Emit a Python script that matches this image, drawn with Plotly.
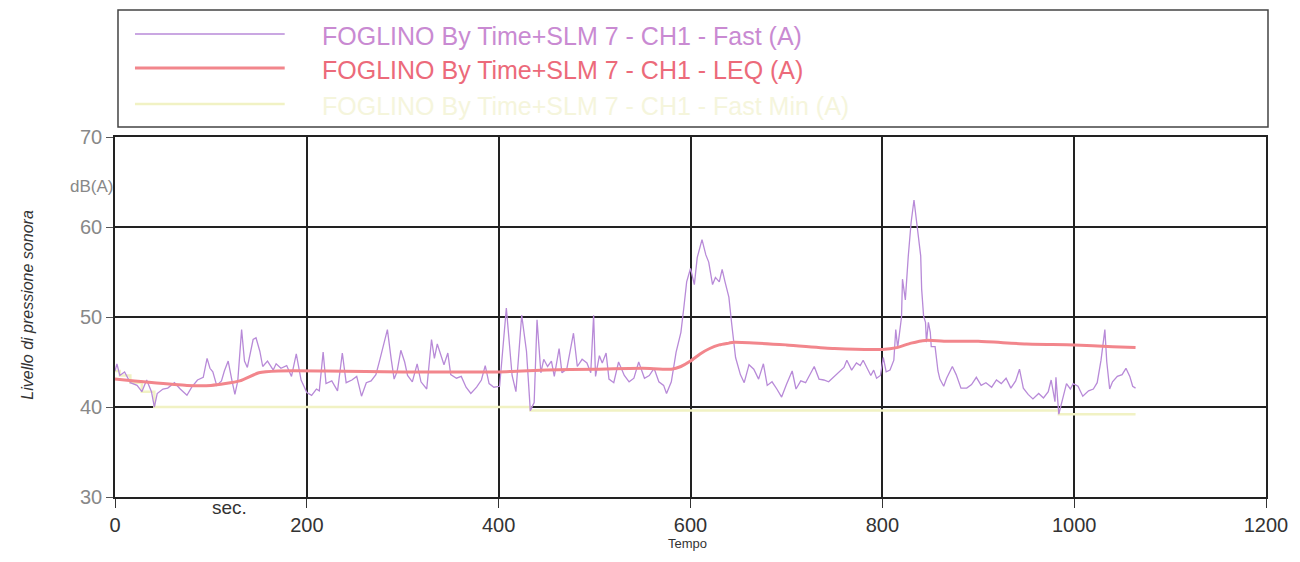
import plotly.graph_objects as go

# ---------------- data ----------------
fast_t = [0,2,5,10,16,23,28,33,38,41,44,50,55,62,68,75,80,86,92,96,99,102,106,111,114,118,122,125,128,132,135,138,144,147,151,154,159,165,168,173,179,184,189,194,200,205,210,213,217,220,226,232,237,241,247,252,257,262,267,272,276,281,284,288,291,294,298,302,305,310,315,319,325,330,333,336,340,343,347,350,356,361,366,371,377,382,386,390,395,401,408,414,418,424,429,433,437,440,444,447,451,455,458,463,466,471,478,482,487,492,496,499,501,505,508,512,515,520,525,531,536,541,546,552,557,562,567,572,575,580,585,590,593,596,600,604,607,612,616,619,623,626,630,633,636,640,643,647,652,656,661,666,671,676,680,685,690,695,700,706,710,715,720,725,729,734,739,744,749,754,760,763,768,773,777,780,784,788,791,794,798,801,804,808,812,814,816,820,821,824,827,830,833,836,840,841,843,845,846,848,850,851,855,858,860,864,867,873,877,882,888,893,898,903,908,914,919,924,929,934,939,943,947,952,957,963,968,973,976,980,981,984,989,992,996,999,1004,1009,1015,1020,1024,1028,1032,1034,1037,1040,1045,1050,1054,1058,1061,1064]
fast_db = [44.0,44.8,43.5,43.9,42.7,42.4,41.7,43.0,41.7,40.0,41.5,42.0,42.1,42.7,42.0,41.3,42.2,43.0,43.3,45.4,44.3,43.9,42.4,42.9,44.0,45.1,42.9,41.4,42.9,48.6,45.1,44.4,47.5,47.7,46.2,44.5,45.1,44.1,44.8,44.3,44.6,43.4,45.9,43.0,41.6,41.3,42.0,41.8,46.1,42.6,42.9,41.8,46.0,42.7,43.0,43.4,41.2,42.7,42.9,43.6,45.2,47.2,48.6,45.3,43.1,43.9,46.3,45.0,43.5,42.8,44.8,42.8,42.0,47.5,45.4,47.0,45.6,44.7,46.0,43.6,43.2,43.4,42.2,41.5,42.2,43.0,44.6,42.6,42.2,42.3,51.0,43.5,41.7,50.2,46.2,39.6,40.5,49.7,43.8,45.3,44.5,45.1,43.4,46.5,43.8,44.2,48.2,44.5,45.3,44.9,43.8,50.2,43.4,45.7,44.9,46.0,43.1,42.7,45.0,43.5,42.8,43.2,45.0,43.2,43.5,44.3,42.8,42.4,41.5,42.8,46.1,48.3,51.0,53.9,55.4,53.6,56.6,58.6,56.9,56.1,53.6,54.4,53.9,55.3,53.9,52.2,49.2,45.5,43.6,42.7,44.7,44.2,43.1,44.8,42.4,42.8,42.0,41.1,42.5,44.0,42.0,42.9,42.7,43.7,44.5,43.1,43.0,42.8,43.3,43.9,44.4,45.2,44.1,44.9,44.6,45.2,44.4,43.5,44.1,43.2,43.5,45.5,43.9,44.1,45.2,48.6,46.6,50.0,54.2,51.9,56.7,60.5,63.0,60.5,56.8,53.1,50.1,49.4,47.2,49.4,48.3,46.7,46.7,44.0,43.1,42.3,43.2,44.5,43.6,42.1,42.1,42.5,43.3,42.4,42.7,42.2,43.0,42.6,43.2,42.1,42.9,44.2,42.1,41.4,40.9,41.5,41.0,41.7,43.0,40.6,43.3,39.2,41.4,42.6,42.0,42.6,42.3,41.2,41.8,42.0,42.7,45.2,48.6,45.0,42.0,42.8,43.4,43.6,44.3,43.4,42.3,42.1]

leq_t = [0,10,30,75,100,130,150,170,220,300,400,450,500,550,580,590,600,610,620,630,640,645,700,750,800,815,830,845,870,900,950,1000,1040,1064]
leq_db = [43.1,43.0,42.8,42.4,42.4,42.9,43.8,44.0,44.0,43.9,43.9,44.1,44.2,44.3,44.2,44.5,45.1,45.9,46.5,46.9,47.1,47.2,46.9,46.5,46.4,46.6,47.1,47.4,47.3,47.3,47.0,46.9,46.7,46.6]

min_t = [0,5,16,28,41,433,984,1064]
min_db = [44.0,43.5,42.7,41.7,40.0,39.6,39.2,39.2]

x_ticks = [0,200,400,600,800,1000,1200]
y_ticks = [30,40,50,60,70]

names = ["FOGLINO By Time+SLM 7 - CH1 - Fast (A)",
         "FOGLINO By Time+SLM 7 - CH1 - LEQ (A)",
         "FOGLINO By Time+SLM 7 - CH1 - Fast Min (A)"]

c_fast = "#b88ad8"
c_leq = "#f2868c"
c_min = "#f1f2c4"
txt_cols = ["#c98ad2", "#ec6a7a", "#f5f5dc"]

FONT = "Liberation Sans, Arial, sans-serif"

fig = go.Figure()
fig.add_trace(go.Scatter(x=min_t, y=min_db, mode="lines", line=dict(color=c_min, width=2.5, shape="hv"), name=names[2]))
fig.add_trace(go.Scatter(x=fast_t, y=fast_db, mode="lines", line=dict(color=c_fast, width=1.3), name=names[0]))
fig.add_trace(go.Scatter(x=leq_t, y=leq_db, mode="lines", line=dict(color=c_leq, width=3, shape="spline", smoothing=0.6), name=names[1]))

L, R, T, B = 115, 32, 137, 65
W, H = 1300, 562
pw, ph = W - L - R, H - T - B

def px_x(p):
    return (p - L) / pw

def px_y(p):
    return (H - B - p) / ph

shapes = []
# legend box
shapes.append(dict(type="rect", xref="paper", yref="paper", x0=px_x(118), x1=px_x(1270), y0=px_y(127), y1=px_y(10),
                   line=dict(color="#444", width=1.5), fillcolor="rgba(0,0,0,0)", layer="above"))
rows_y = [34, 68, 104]
sample_cols = [c_fast, c_leq, c_min]
sample_w = [1.5, 3, 2.5]
for yy, cc, ww in zip(rows_y, sample_cols, sample_w):
    shapes.append(dict(type="line", xref="paper", yref="paper", x0=px_x(135), x1=px_x(285), y0=px_y(yy), y1=px_y(yy),
                       line=dict(color=cc, width=ww)))

annotations = []
for yy, nm, tc in zip(rows_y, names, txt_cols):
    annotations.append(dict(xref="paper", yref="paper", x=px_x(320), y=px_y(yy + 2), text=nm, showarrow=False,
                            xanchor="left", yanchor="middle", font=dict(family=FONT, size=25, color=tc)))
annotations.append(dict(xref="paper", yref="paper", x=px_x(68), y=px_y(175), text="dB(A)", showarrow=False,
                        font=dict(family=FONT, size=17, color="#888")))
annotations.append(dict(xref="paper", yref="paper", x=px_x(210), y=px_y(520), text="sec.", showarrow=False,
                        font=dict(family=FONT, size=19, color="#333")))
annotations.append(dict(xref="paper", yref="paper", x=px_x(688), y=px_y(553), text="Tempo", showarrow=False,
                        font=dict(family=FONT, size=13, color="#333")))
annotations.append(dict(xref="paper", yref="paper", x=px_x(16), y=px_y(305), text="<i>Livello di pressione sonora</i>",
                        showarrow=False, textangle=-90, font=dict(family=FONT, size=16, color="#333")))

fig.update_layout(
    width=W, height=H,
    margin=dict(l=L, r=R, t=T, b=B),
    paper_bgcolor="white", plot_bgcolor="white",
    showlegend=False,
    shapes=shapes, annotations=annotations,
    font=dict(family=FONT),
    xaxis=dict(range=[0, 1200], tickvals=x_ticks, ticktext=[str(v) for v in x_ticks],
               showgrid=True, gridcolor="#222", gridwidth=1.5, zeroline=False,
               showline=True, linecolor="#222", linewidth=1.5, mirror=True,
               ticks="outside", ticklen=9, tickcolor="#333", tickwidth=1,
               tickfont=dict(family=FONT, size=20, color="#333")),
    yaxis=dict(range=[30, 70], tickvals=y_ticks, ticktext=[str(v) for v in y_ticks],
               showgrid=True, gridcolor="#222", gridwidth=1.5, zeroline=False,
               showline=True, linecolor="#222", linewidth=1.5, mirror=True,
               ticks="outside", ticklen=7, tickcolor="#555", tickwidth=1,
               tickfont=dict(family=FONT, size=20, color="#888")),
)

fig.write_html("out.html")
